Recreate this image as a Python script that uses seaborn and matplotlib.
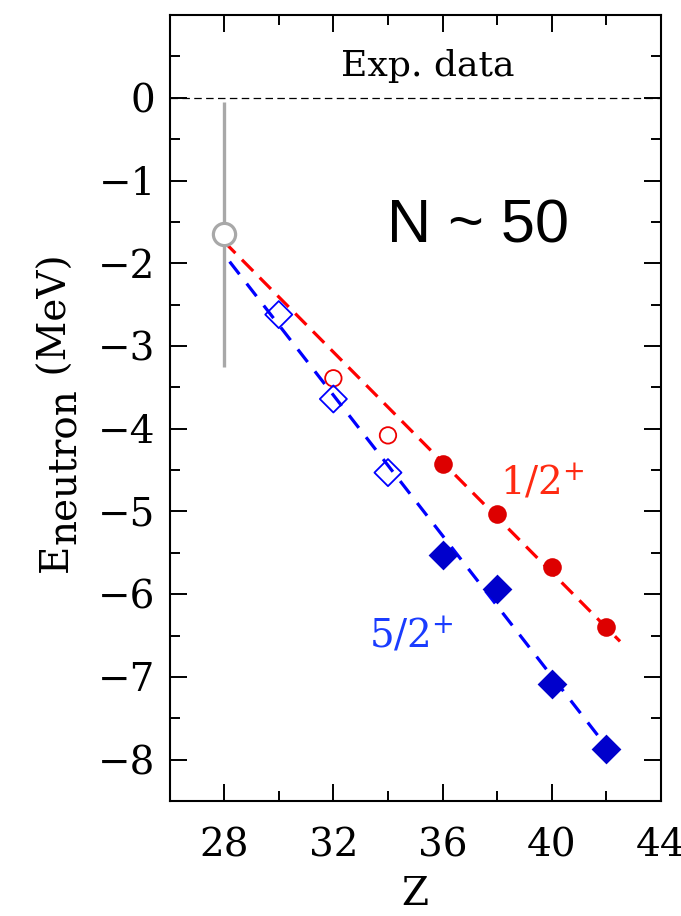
import matplotlib
matplotlib.use("Agg")
import matplotlib.pyplot as plt
import seaborn as sns
from matplotlib.ticker import MultipleLocator
from matplotlib.transforms import offset_copy

# experimental point at Z = 28
exp_z = [28]
exp_e = [-1.65]
exp_err = [1.6]

# 1/2+ level (open = extrapolated, filled = calculated)
half_z_open = [32, 34]
half_e_open = [-3.39, -4.08]
half_z_fill = [36, 38, 40, 42]
half_e_fill = [-4.43, -5.03, -5.67, -6.40]
half_fit_z = [28.0, 42.5]
half_fit_e = [-1.74, -6.57]

# 5/2+ level
five_z_open = [30, 32, 34]
five_e_open = [-2.62, -3.64, -4.53]
five_z_fill = [36, 38, 40, 42]
five_e_fill = [-5.53, -5.94, -7.08, -7.87]
five_fit_z = [28.2, 42.0]
five_fit_e = [-1.98, -7.84]

x_ticks = [28, 32, 36, 40, 44]
y_ticks = [0, -1, -2, -3, -4, -5, -6, -7, -8]

sns.set_style("ticks")
plt.rcParams["font.family"] = ["DejaVu Serif"]
plt.rcParams["mathtext.fontset"] = "dejavuserif"
for key in ["text.color", "axes.labelcolor", "xtick.color", "ytick.color",
            "axes.edgecolor"]:
    plt.rcParams[key] = "black"

fig = plt.figure(figsize=(6.81, 9.16), dpi=100)
ax = fig.add_axes([0.249, 0.1255, 0.7216, 0.858])

# zero line
ax.axhline(0, color="black", linewidth=0.9, linestyle=(0, (6, 3.5)), zorder=1)

# dashed trend lines
sns.lineplot(x=half_fit_z, y=half_fit_e, color="#ff0000", linewidth=2.3,
             linestyle=(0, (5, 2.9)), ax=ax, zorder=2)
sns.lineplot(x=five_fit_z, y=five_fit_e, color="#0000ff", linewidth=2.3,
             linestyle=(0, (5, 3.7)), ax=ax, zorder=2)

# 1/2+ points
sns.scatterplot(x=half_z_fill, y=half_e_fill, marker="o", s=180,
                color="#dd0000", edgecolor="#dd0000", linewidth=0, ax=ax, zorder=4)
sns.scatterplot(x=half_z_open, y=half_e_open, marker="o", s=140,
                facecolor="none", edgecolor="#ee0000", linewidth=1.3, ax=ax, zorder=4)

# 5/2+ points
sns.scatterplot(x=five_z_fill, y=five_e_fill, marker="D", s=230,
                color="#0000cc", edgecolor="#0000cc", linewidth=0, ax=ax, zorder=4)
sns.scatterplot(x=five_z_open, y=five_e_open, marker="D", s=190,
                facecolor="none", edgecolor="#0000ff", linewidth=1.3, ax=ax, zorder=4)

# experimental point with error bar
ax.errorbar(exp_z, exp_e, yerr=exp_err, fmt="o", color="#a8a8a8", mfc="white",
            ms=16, mew=2.3, elinewidth=2.4, capsize=0, zorder=6)

ax.set_xlim(26, 44)
ax.set_ylim(-8.5, 1)
ax.set_xticks(x_ticks)
ax.set_yticks(y_ticks)
ax.xaxis.set_minor_locator(MultipleLocator(2))
ax.yaxis.set_minor_locator(MultipleLocator(0.5))
ax.tick_params(which="both", direction="in", top=True, right=True, width=1.4,
               color="black", labelcolor="black", labelsize=28)
ax.tick_params(which="major", length=12)
ax.tick_params(which="minor", length=7)
ax.tick_params(axis="x", pad=19)
ax.tick_params(axis="y", pad=10)
for sp in ax.spines.values():
    sp.set_linewidth(1.5)
    sp.set_color("black")

ax.set_xlabel("Z", fontsize=28, labelpad=8)
ax.set_ylabel("")

# texts inside the panel
ax.text(35.45, 0.26, "Exp. data", fontsize=26, ha="center", va="baseline")
ax.text(33.97, -1.75, "N ~ 50", fontsize=44, ha="left", va="baseline",
        family=["Liberation Sans", "DejaVu Sans"])
ax.text(38.12, -4.79, "1/2$^{+}$", fontsize=28, color="#ff2a12",
        ha="left", va="baseline")
ax.text(33.31, -6.65, "5/2$^{+}$", fontsize=28, color="#1a3cff",
        ha="left", va="baseline")

# y label: E with a lowered, full size "neutron"
renderer = fig.canvas.get_renderer()
lab_x, lab_y = -0.2088, 0.2913
lab_kw = dict(rotation=90, rotation_mode="anchor", ha="left", va="baseline",
              fontsize=28)
t1 = ax.text(lab_x, lab_y, "E", transform=ax.transAxes, **lab_kw)
h1 = t1.get_window_extent(renderer).height
t2 = ax.text(lab_x, lab_y, "neutron",
             transform=offset_copy(ax.transAxes, fig=fig, x=8, y=h1, units="dots"),
             **lab_kw)
h2 = t2.get_window_extent(renderer).height
ax.text(lab_x, lab_y, " (MeV)",
        transform=offset_copy(ax.transAxes, fig=fig, x=0, y=h1 + h2, units="dots"),
        **lab_kw)

fig.savefig("out.png", dpi=100)
